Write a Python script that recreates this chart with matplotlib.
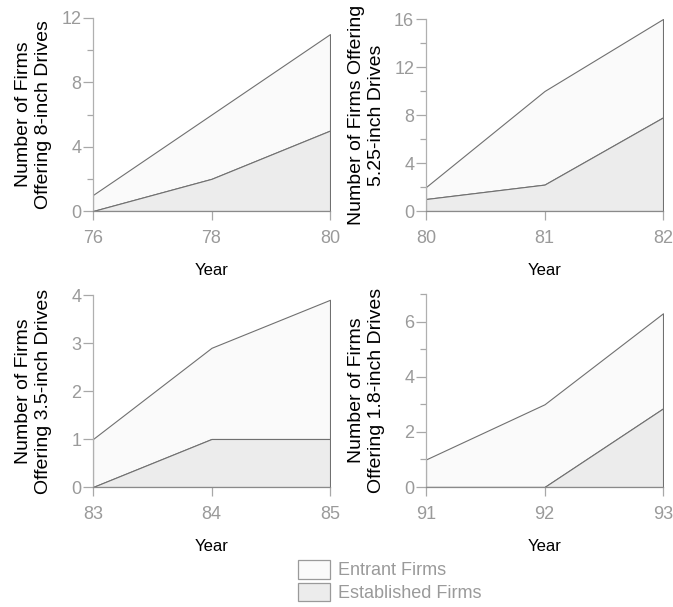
import numpy as np
import matplotlib
matplotlib.use('Agg')
import matplotlib.pyplot as plt
from matplotlib.patches import Patch

plt.rcParams['font.family'] = ['Liberation Sans', 'DejaVu Sans']

# Data: total firms (entrant + established) and established firms
years_8 = [76, 78, 80]
total_8 = [1, 6, 11]
estab_8 = [0, 2, 5]

years_525 = [80, 81, 82]
total_525 = [2, 10, 16]
estab_525 = [1, 2.2, 7.8]

years_35 = [83, 84, 85]
total_35 = [1, 2.9, 3.9]
estab_35 = [0, 1, 1]

years_18 = [91, 92, 93]
total_18 = [1, 3, 6.3]
estab_18 = [0, 0, 2.85]

ylabels = [
    'Number of Firms\nOffering 8-inch Drives',
    'Number of Firms Offering\n5.25-inch Drives',
    'Number of Firms\nOffering 3.5-inch Drives',
    'Number of Firms\nOffering 1.8-inch Drives',
]

panels = [
    (years_8, total_8, estab_8, 12, [0, 4, 8, 12], [2, 6, 10]),
    (years_525, total_525, estab_525, 16, [0, 4, 8, 12, 16], [2, 6, 10, 14]),
    (years_35, total_35, estab_35, 4, [0, 1, 2, 3, 4], []),
    (years_18, total_18, estab_18, 7, [0, 2, 4, 6], [1, 3, 5, 7]),
]

W, H = 673, 607
fig = plt.figure(figsize=(W / 100, H / 100), dpi=100)

# axes boxes in pixels: left, top, right, bottom
boxes = [
    (93, 18, 330, 211),
    (426, 19, 663, 211),
    (93, 295, 330, 487),
    (426, 294, 663, 487),
]

entrant_col = '#fafafa'
estab_col = '#ececec'
line_col = '#707070'
grey = '#9a9a9a'

for (years, total, estab, ytop, yt, ymin), (l, t, r, b), lab in zip(panels, boxes, ylabels):
    ax = fig.add_axes([l / W, 1 - b / H, (r - l) / W, (b - t) / H])
    ax.fill_between(years, estab, total, facecolor=entrant_col,
                    edgecolor=line_col, linewidth=0.8)
    ax.fill_between(years, 0, estab, facecolor=estab_col,
                    edgecolor=line_col, linewidth=0.8)
    ax.set_xlim(years[0], years[-1])
    ax.set_ylim(0, ytop)
    ax.set_xticks(years)
    ax.set_yticks(yt)
    ax.set_yticks(ymin, minor=True)
    for s in ['top', 'right']:
        ax.spines[s].set_visible(False)
    ax.spines['left'].set_color('#b0b0b0')
    ax.spines['bottom'].set_color('#8a8a8a')
    for s in ['left', 'bottom']:
        ax.spines[s].set_linewidth(0.9)
    ax.tick_params(axis='both', which='both', colors='#a8a8a8', labelcolor=grey,
                   labelsize=13, width=0.9)
    ax.tick_params(axis='y', which='major', length=7.5, pad=1)
    ax.tick_params(axis='y', which='minor', length=4.5)
    ax.tick_params(axis='x', length=6.5, pad=7)
    ax.set_xlabel('Year', fontsize=12)
    ax.xaxis.set_label_coords(0.5, -0.31)
    ax.xaxis.label.set_va('center')
    ax.set_ylabel(lab, fontsize=14, linespacing=1.3)
    ax.yaxis.set_label_coords(-0.251, 0.5)
    ax.yaxis.label.set_va('center')
    ax.patch.set_alpha(0)

handles = [
    Patch(facecolor=entrant_col, edgecolor=grey, linewidth=0.9, label='Entrant Firms'),
    Patch(facecolor=estab_col, edgecolor=grey, linewidth=0.9, label='Established Firms'),
]
leg = fig.legend(handles=handles, loc='upper left',
                 bbox_to_anchor=(298 / W, 1 - 560 / H),
                 frameon=False, fontsize=13, handlelength=1.75,
                 handleheight=1.2, handletextpad=0.45, labelspacing=0.2,
                 borderaxespad=0, borderpad=0)
for txt in leg.get_texts():
    txt.set_color(grey)

fig.savefig('out.png', dpi=100)
